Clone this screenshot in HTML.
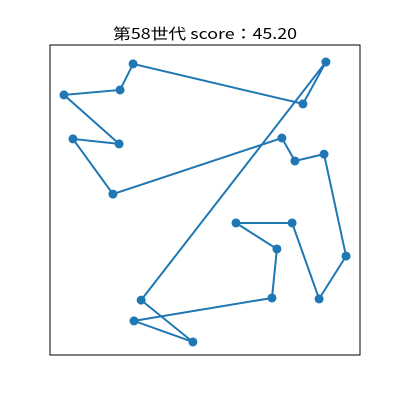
<!DOCTYPE html>
<html><head><meta charset="utf-8"><style>
html,body{margin:0;padding:0;background:#fff;}
svg{display:block;}
text{font-family:"Noto Sans CJK JP","Liberation Sans",sans-serif;}
</style></head><body>
<svg id="chart" width="400" height="400" viewBox="0 0 400 400">
<rect x="0" y="0" width="400" height="400" fill="#fff"/>
<text x="205" y="39" text-anchor="middle" font-size="15" textLength="184" lengthAdjust="spacingAndGlyphs" fill="#000">第58世代 score：45.20</text>
<rect x="50" y="45" width="310" height="310" fill="none" stroke="#000" stroke-width="1"/>
<g id="marks"></g>
</svg>
<script>
const xs = [89.0,29.4,46.1,27.1,71.6,73.2,60.0,78.1,86.8,95.5,88.4,79.0,74.8,20.3,7.4,22.3,4.5,22.6,26.8,81.6];
const ys = [94.5,17.7,4.2,11.0,18.4,34.2,42.6,42.6,18.1,31.9,64.8,62.6,70.0,51.9,69.7,68.1,83.9,85.5,93.9,81.0];
const X0=50,Y0=355,W=310,H=310;
function sx(v){return X0+v/100*W;}
function sy(v){return Y0-v/100*H;}
const ns="http://www.w3.org/2000/svg";
const g=document.getElementById('marks');
let d='';
for(let i=0;i<=xs.length;i++){const k=i%xs.length;d+=(i?'L':'M')+sx(xs[k])+','+sy(ys[k]);}
const p=document.createElementNS(ns,'path');
p.setAttribute('d',d);p.setAttribute('fill','none');p.setAttribute('stroke','#1f77b4');p.setAttribute('stroke-width','2');


g.appendChild(p);
for(let i=0;i<xs.length;i++){
const c=document.createElementNS(ns,'circle');
c.setAttribute('cx',sx(xs[i]));c.setAttribute('cy',sy(ys[i]));c.setAttribute('r','4.5');c.setAttribute('fill','#1f77b4');


g.appendChild(c);
}
</script>
</body></html>
